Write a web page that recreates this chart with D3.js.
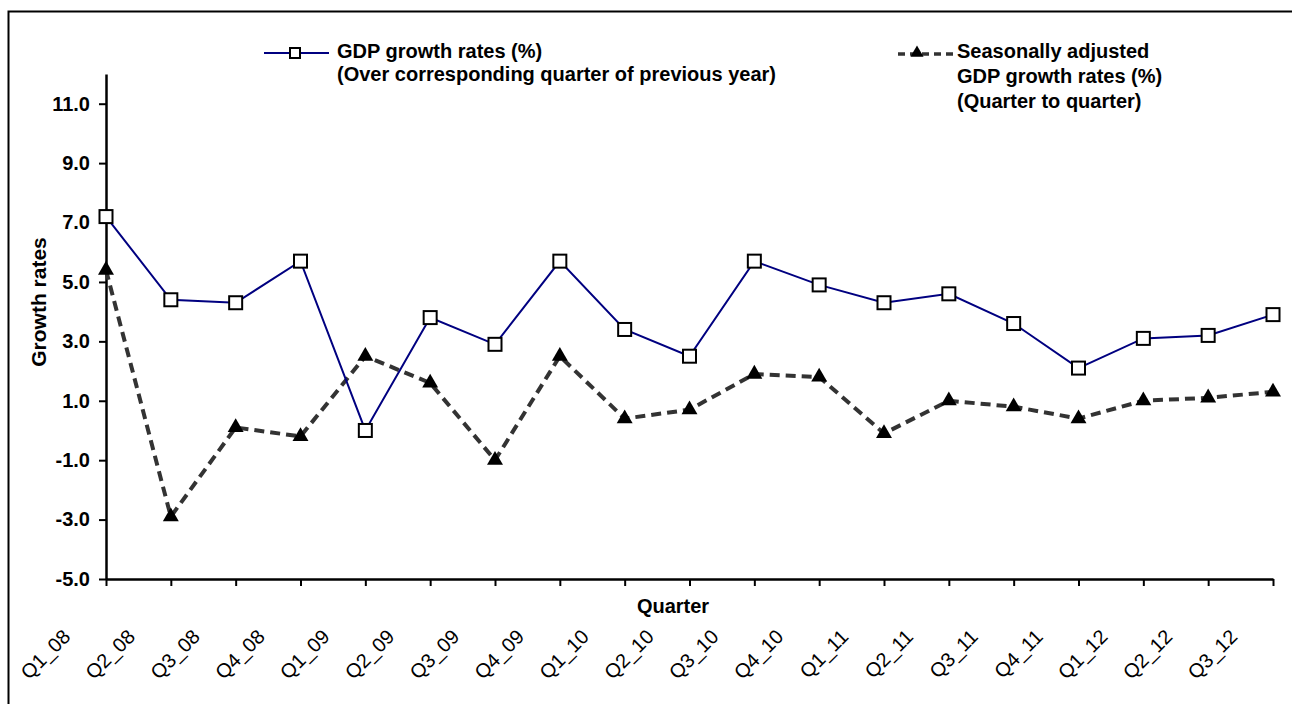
<!DOCTYPE html>
<html>
<head>
<meta charset="utf-8">
<script src="https://cdn.jsdelivr.net/npm/d3@7"></script>
<style>
  body { margin: 0; background: #fff; }
  svg { display: block; font-family: Arial, "Liberation Sans", sans-serif; }
</style>
</head>
<body>
<div id="chart"></div>
<script>
// quarters on the x axis
var quarters = ["Q1_08", "Q2_08", "Q3_08", "Q4_08",
                "Q1_09", "Q2_09", "Q3_09", "Q4_09",
                "Q1_10", "Q2_10", "Q3_10", "Q4_10",
                "Q1_11", "Q2_11", "Q3_11", "Q4_11",
                "Q1_12", "Q2_12", "Q3_12"];

// GDP growth over corresponding quarter of previous year (%)
var gdpYoY = [7.2, 4.4, 4.3, 5.7, 0.0, 3.8, 2.9, 5.7, 3.4, 2.5,
              5.7, 4.9, 4.3, 4.6, 3.6, 2.1, 3.1, 3.2, 3.9];

// seasonally adjusted GDP growth, quarter to quarter (%)
var gdpQoQ = [5.4, -2.9, 0.1, -0.2, 2.5, 1.6, -1.0, 2.5, 0.4, 0.7,
              1.9, 1.8, -0.1, 1.0, 0.8, 0.4, 1.0, 1.1, 1.3];

var yTicks = [-5, -3, -1, 1, 3, 5, 7, 9, 11];

function main(){
    var canvasWidth = 1292;
    var canvasHeight = 704;
    var fontSize = "20px";

    var svg = d3.select("#chart").append("svg")
        .attr("width", canvasWidth)
        .attr("height", canvasHeight);

    // outer frame (runs off the right and bottom like the original)
    svg.append("rect")
        .attr("x", 8.5).attr("y", 11.5)
        .attr("width", 1400).attr("height", 800)
        .attr("fill", "none")
        .attr("stroke", "#000")
        .attr("stroke-width", 2);

    var xScale = d3.scalePoint().domain(quarters).range([106, 1273]);
    var yScale = d3.scaleLinear().domain([-5, 12]).range([579, 74]);

    // Y axis
    var yAxis = svg.append("g")
        .attr("transform", "translate(106, 0)")
        .call(d3.axisLeft(yScale)
            .tickValues(yTicks)
            .tickSize(7)
            .tickSizeOuter(0)
            .tickPadding(9)
            .tickFormat(function(d) { return d.toFixed(1); }));
    yAxis.select(".domain").attr("stroke-width", 2.5);
    yAxis.selectAll(".tick line").attr("stroke-width", 2);
    yAxis.selectAll("text")
        .attr("font-size", fontSize)
        .attr("font-weight", "bold")
        .attr("font-family", "Arial, 'Liberation Sans', sans-serif")
        .attr("fill", "#000");

    // X axis
    var xAxis = svg.append("g")
        .attr("transform", "translate(0, 579)")
        .call(d3.axisBottom(xScale).tickSize(7).tickSizeOuter(0));
    xAxis.select(".domain").attr("stroke-width", 2.5);
    xAxis.selectAll(".tick line").attr("stroke-width", 2);
    xAxis.selectAll("text")
        .attr("x", 0).attr("y", 0).attr("dy", 0)
        .attr("text-anchor", "end")
        .attr("transform", "translate(-35, 59) rotate(-45)")
        .attr("font-size", fontSize)
        .attr("font-family", "Arial, 'Liberation Sans', sans-serif")
        .attr("fill", "#000");

    // axis titles
    svg.append("text")
        .attr("x", 673).attr("y", 613)
        .attr("text-anchor", "middle")
        .attr("font-size", fontSize)
        .attr("font-weight", "bold")
        .text("Quarter");

    svg.append("text")
        .attr("transform", "translate(46, 302) rotate(-90)")
        .attr("text-anchor", "middle")
        .attr("font-size", "21px")
        .attr("font-weight", "bold")
        .text("Growth rates");

    var line = d3.line()
        .x(function(d, i) { return xScale(quarters[i]); })
        .y(function(d) { return yScale(d); });

    // dashed series first so the blue line sits on top
    svg.append("path")
        .datum(gdpQoQ)
        .attr("d", line)
        .attr("fill", "none")
        .attr("stroke", "#333")
        .attr("stroke-width", 4)
        .attr("stroke-dasharray", "10,6");

    svg.append("path")
        .datum(gdpYoY)
        .attr("d", line)
        .attr("fill", "none")
        .attr("stroke", "#000080")
        .attr("stroke-width", 2);

    var tri = d3.symbol().type(d3.symbolTriangle).size(110);

    svg.selectAll(".tri")
        .data(gdpQoQ)
        .enter().append("path")
        .attr("class", "tri")
        .attr("d", tri)
        .attr("transform", function(d, i) {
            return "translate(" + xScale(quarters[i]) + "," + yScale(d) + ")";
        })
        .attr("fill", "#000");

    svg.selectAll(".sq")
        .data(gdpYoY)
        .enter().append("rect")
        .attr("class", "sq")
        .attr("x", function(d, i) { return xScale(quarters[i]) - 6.5; })
        .attr("y", function(d) { return yScale(d) - 6.5; })
        .attr("width", 13)
        .attr("height", 13)
        .attr("fill", "#fff")
        .attr("stroke", "#000")
        .attr("stroke-width", 2);

    // legend 1
    var leg1 = svg.append("g");
    leg1.append("line")
        .attr("x1", 264).attr("x2", 329)
        .attr("y1", 53).attr("y2", 53)
        .attr("stroke", "#000080").attr("stroke-width", 2);
    leg1.append("rect")
        .attr("x", 290).attr("y", 48)
        .attr("width", 10).attr("height", 10)
        .attr("fill", "#fff").attr("stroke", "#000").attr("stroke-width", 2);
    var t1 = leg1.append("text")
        .attr("font-size", fontSize)
        .attr("font-weight", "bold");
    t1.append("tspan").attr("x", 337).attr("y", 58).text("GDP growth rates (%)");
    t1.append("tspan").attr("x", 337).attr("y", 81).text("(Over corresponding quarter of previous year)");

    // legend 2
    var leg2 = svg.append("g");
    leg2.append("line")
        .attr("x1", 898).attr("x2", 953)
        .attr("y1", 54).attr("y2", 54)
        .attr("stroke", "#333").attr("stroke-width", 3.5)
        .attr("stroke-dasharray", "7,5");
    leg2.append("path")
        .attr("d", d3.symbol().type(d3.symbolTriangle).size(75))
        .attr("transform", "translate(917, 53)")
        .attr("fill", "#000");
    var t2 = leg2.append("text")
        .attr("font-size", fontSize)
        .attr("font-weight", "bold");
    t2.append("tspan").attr("x", 957).attr("y", 58).text("Seasonally adjusted");
    t2.append("tspan").attr("x", 957).attr("y", 83).text("GDP growth rates (%)");
    t2.append("tspan").attr("x", 957).attr("y", 108).text("(Quarter to quarter)");
}

main()
</script>
</body>
</html>
